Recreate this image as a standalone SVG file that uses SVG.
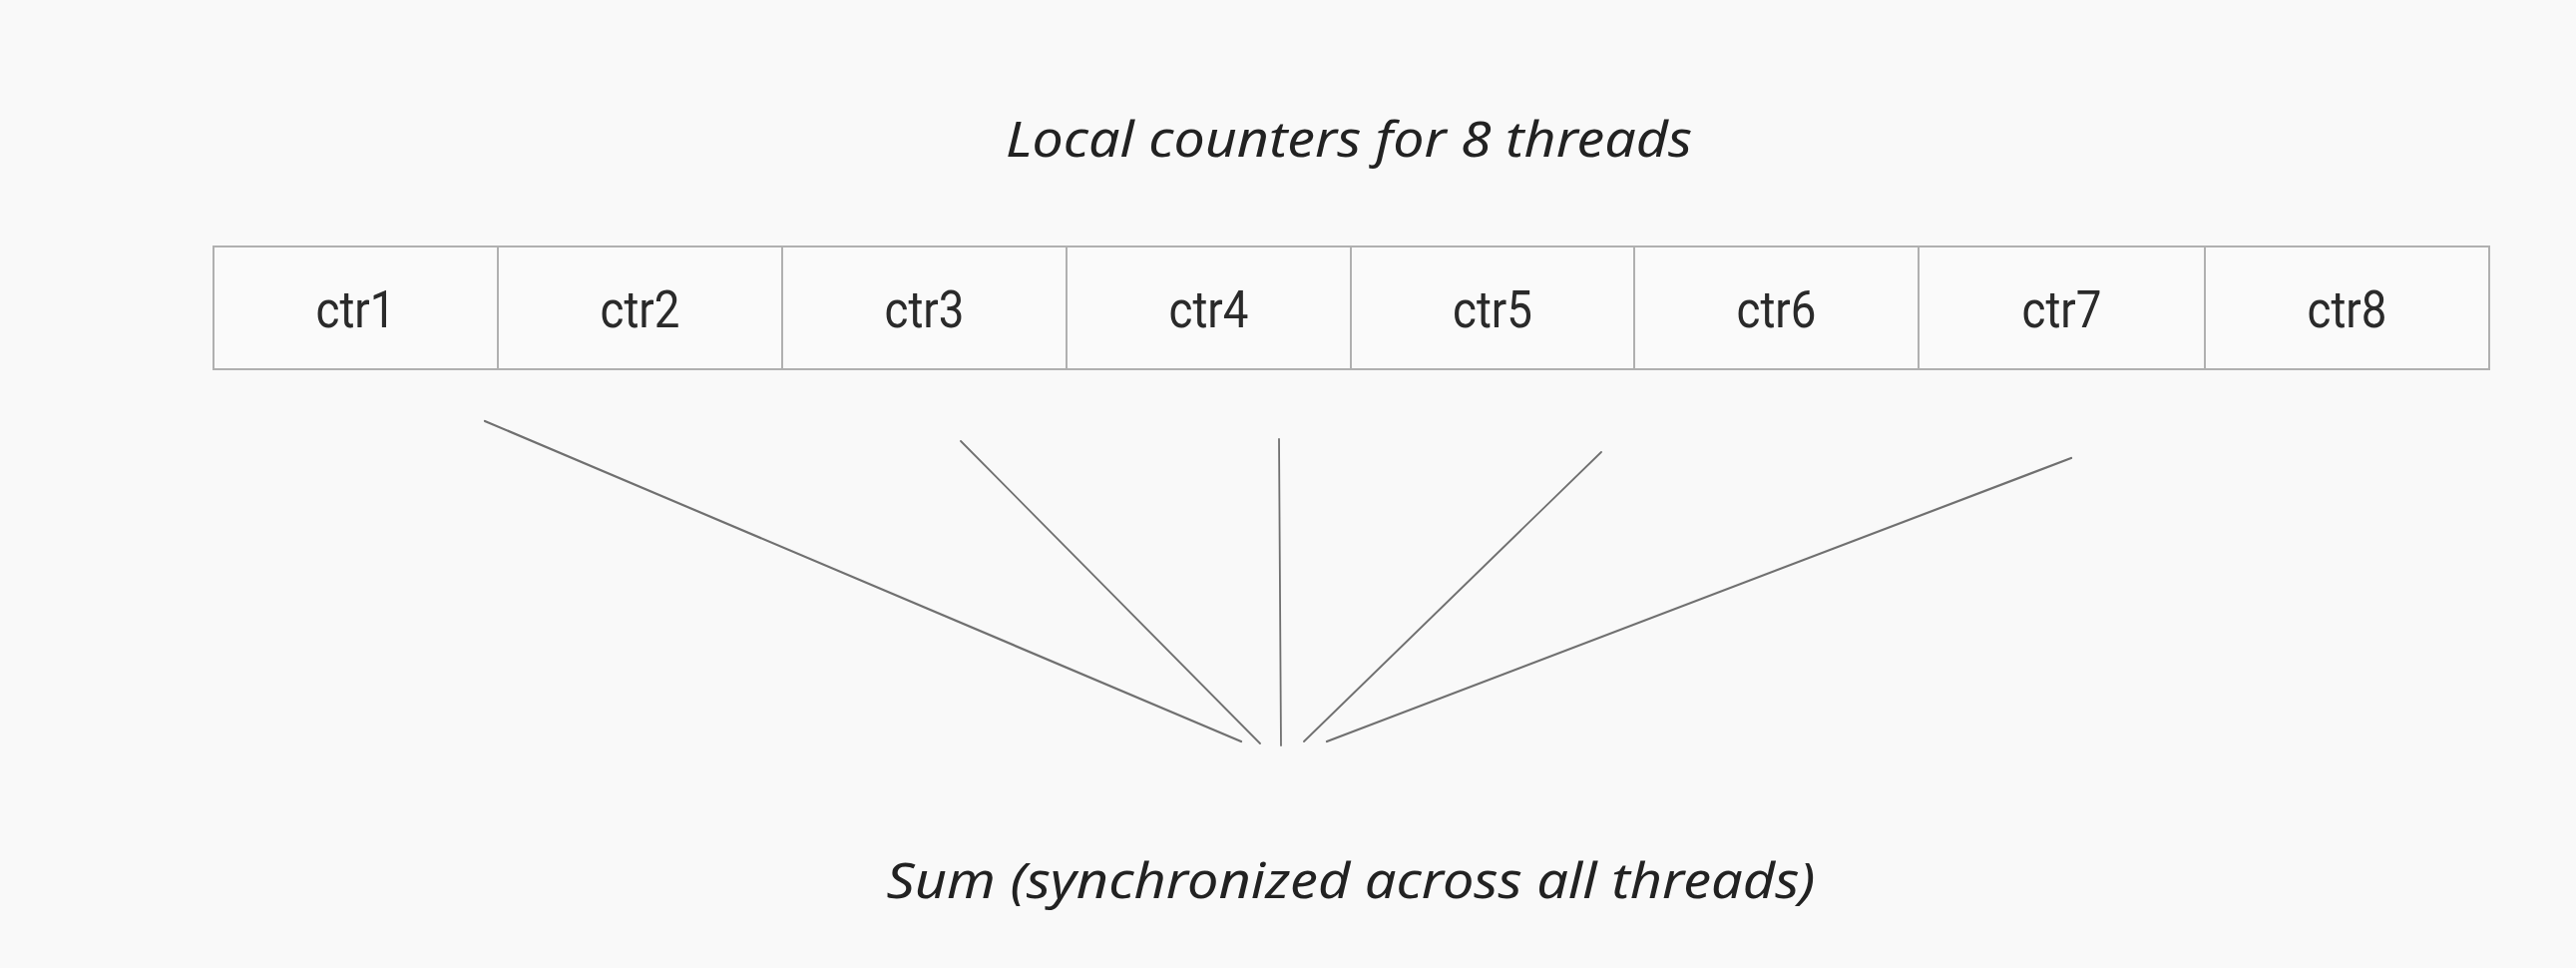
<svg xmlns="http://www.w3.org/2000/svg" width="2582" height="970" viewBox="0 0 2582 970">
<style>
.bg{fill:#f9f9f9}
.cell{fill:#fafafa;stroke:#b0b0b0;stroke-width:2}
.lbl{font-family:Roboto,"Liberation Sans",sans-serif;font-size:52px;fill:#2a2a2a;text-anchor:middle}
.hand{font-family:"Noto Sans","Liberation Sans",sans-serif;font-style:italic;font-weight:400;fill:#222;text-anchor:middle}
.conn line{stroke:#707070;stroke-linecap:round}
</style>
<rect class="bg" x="0" y="0" width="2582" height="970"/>
<text class="hand" x="1352" y="157" font-size="50" textLength="688" lengthAdjust="spacingAndGlyphs">Local counters for 8 threads</text>
<g id="ctr1"><rect class="cell" x="214" y="247" width="285" height="123"/><text class="lbl" x="356.5" y="328" textLength="80" lengthAdjust="spacingAndGlyphs">ctr1</text></g>
<g id="ctr2"><rect class="cell" x="499" y="247" width="285" height="123"/><text class="lbl" x="641.5" y="328" textLength="80" lengthAdjust="spacingAndGlyphs">ctr2</text></g>
<g id="ctr3"><rect class="cell" x="784" y="247" width="285" height="123"/><text class="lbl" x="926.5" y="328" textLength="80" lengthAdjust="spacingAndGlyphs">ctr3</text></g>
<g id="ctr4"><rect class="cell" x="1069" y="247" width="285" height="123"/><text class="lbl" x="1211.5" y="328" textLength="80" lengthAdjust="spacingAndGlyphs">ctr4</text></g>
<g id="ctr5"><rect class="cell" x="1354" y="247" width="284" height="123"/><text class="lbl" x="1496" y="328" textLength="80" lengthAdjust="spacingAndGlyphs">ctr5</text></g>
<g id="ctr6"><rect class="cell" x="1638" y="247" width="285" height="123"/><text class="lbl" x="1780.5" y="328" textLength="80" lengthAdjust="spacingAndGlyphs">ctr6</text></g>
<g id="ctr7"><rect class="cell" x="1923" y="247" width="287" height="123"/><text class="lbl" x="2066.5" y="328" textLength="80" lengthAdjust="spacingAndGlyphs">ctr7</text></g>
<g id="ctr8"><rect class="cell" x="2210" y="247" width="285" height="123"/><text class="lbl" x="2352.5" y="328" textLength="80" lengthAdjust="spacingAndGlyphs">ctr8</text></g>
<g id="connectors" class="conn">
<line x1="486" y1="422" x2="1244" y2="743" stroke-width="2.2"/>
<line x1="963" y1="442" x2="1263" y2="745" stroke-width="1.8"/>
<line x1="1282" y1="440" x2="1284" y2="747" stroke-width="1.8"/>
<line x1="1605" y1="453" x2="1307" y2="743" stroke-width="1.8"/>
<line x1="2076" y1="459" x2="1330" y2="743" stroke-width="2.2"/>
</g>
<g id="sum"><text class="hand" x="1354" y="900" font-size="50" textLength="931" lengthAdjust="spacingAndGlyphs">Sum (synchronized across all threads)</text></g>
</svg>
